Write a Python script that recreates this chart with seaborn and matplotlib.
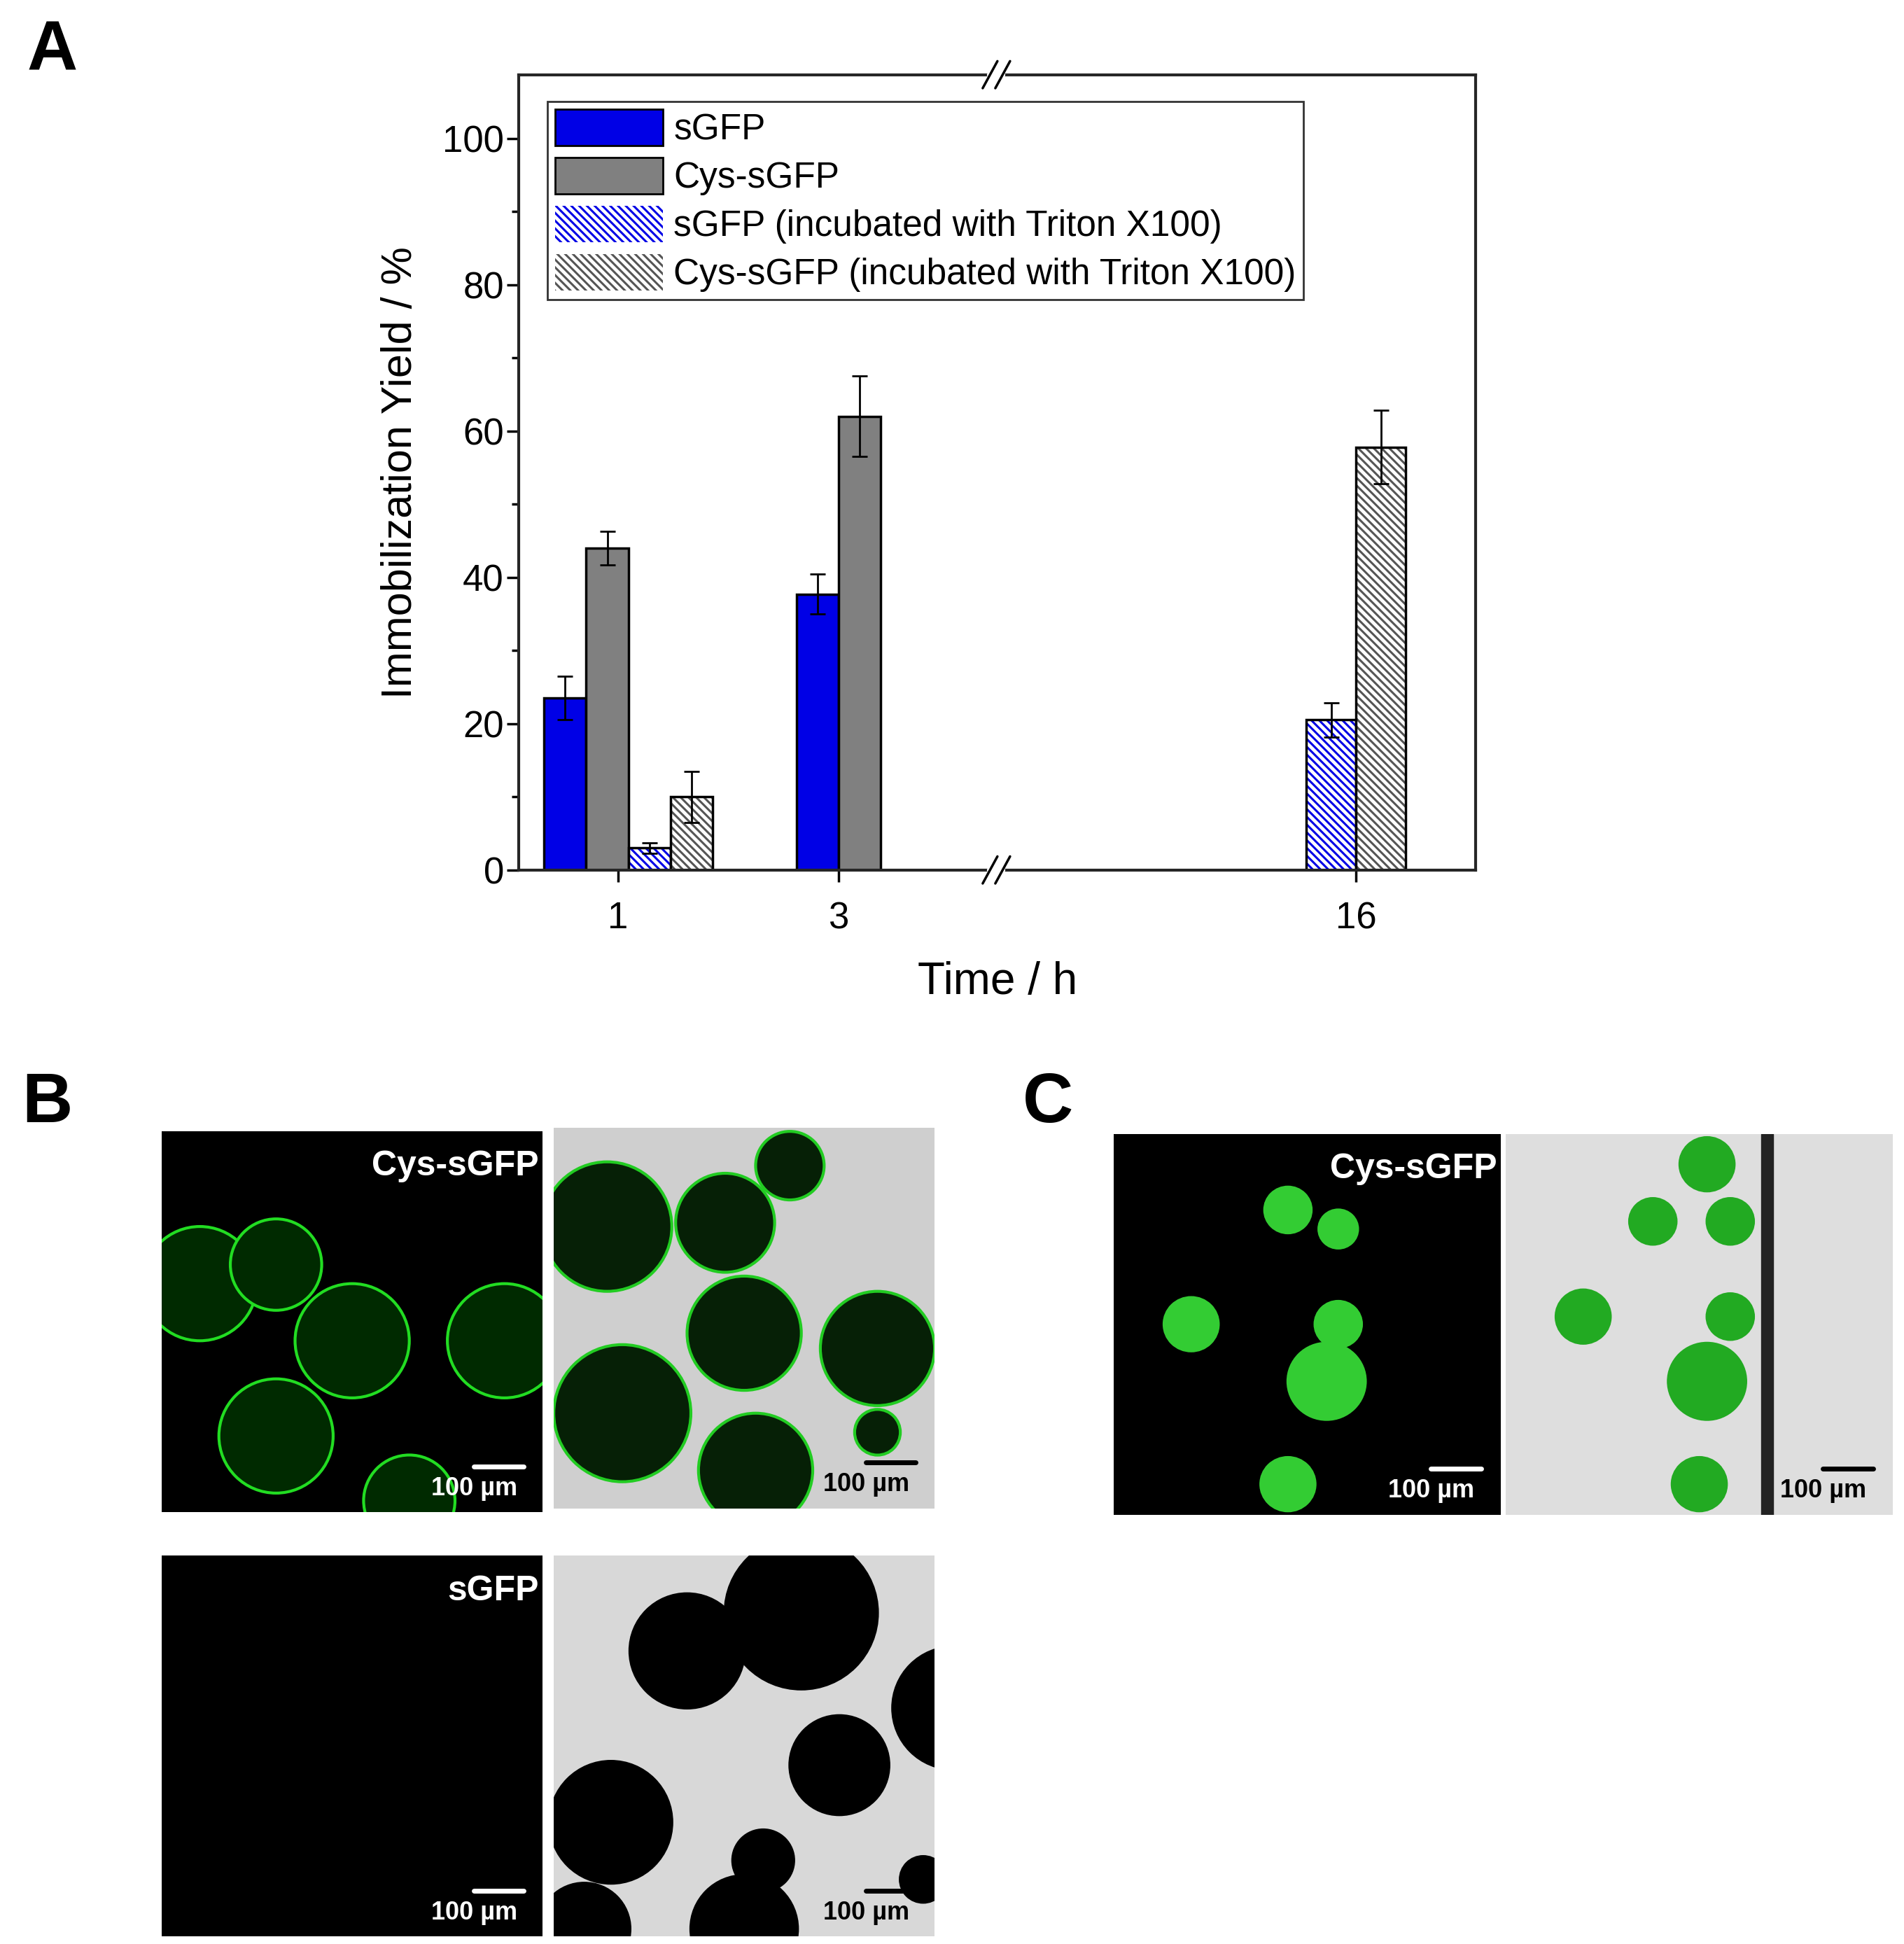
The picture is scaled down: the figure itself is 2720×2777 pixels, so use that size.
import matplotlib
matplotlib.use("Agg")
import matplotlib.pyplot as plt
import seaborn as sns
import numpy as np
from matplotlib.patches import Circle, Patch

sns.set_style("ticks")
plt.rcParams['font.family'] = ['Liberation Sans', 'DejaVu Sans']
plt.rcParams['text.color'] = 'black'
plt.rcParams['axes.labelcolor'] = 'black'
plt.rcParams['xtick.color'] = 'black'
plt.rcParams['ytick.color'] = 'black'
plt.rcParams['hatch.linewidth'] = 2.2

# ---- data ----
time_labels = ["1", "3", "16"]
group_pos = [0.0, 1.0, 3.46]
series = ["sGFP", "Cys-sGFP", "sGFP (incubated with Triton X100)", "Cys-sGFP (incubated with Triton X100)"]
vals_1h = [23.5, 44.0, 3.0, 10.0]
err_1h = [3.0, 2.3, 0.7, 3.5]
vals_3h = [37.7, 62.0]
err_3h = [2.7, 5.5]
vals_16h = [20.5, 57.8]
err_16h = [2.3, 5.0]

BLUE = "#0000e6"
GRAY = "#808080"

W, H = 1530, 1562
def rect(x0, y0, x1, y1):
    return [x0 / W, 1 - y1 / H, (x1 - x0) / W, (y1 - y0) / H]

fig = plt.figure(figsize=(27.2, 27.77), dpi=100)
ax = fig.add_axes(rect(417, 60, 1186, 699))

bw = 0.2
HATCH = "\\\\\\"
styles = [dict(fc=BLUE, hatch=None, hc=None), dict(fc=GRAY, hatch=None, hc=None),
          dict(fc="white", hatch=HATCH, hc=BLUE), dict(fc="white", hatch=HATCH, hc="#555555")]

def draw(x, v, e, st, w=bw):
    if st["hatch"]:
        ax.bar(x, v, w, color="white", edgecolor=st["hc"], hatch=st["hatch"], linewidth=0)
        ax.bar(x, v, w, fill=False, edgecolor="black", linewidth=2.5)
    else:
        ax.bar(x, v, w, color=st["fc"], edgecolor="black", linewidth=2.5)
    ax.errorbar(x, v, yerr=e, fmt="none", ecolor="black", elinewidth=2, capsize=8, capthick=2)

offs4 = [-1.5, -0.5, 0.5, 1.5]
for i in range(4):
    draw(group_pos[0] + offs4[i] * bw, vals_1h[i], err_1h[i], styles[i])
for i in range(2):
    draw(group_pos[1] + (i - 0.5) * bw, vals_3h[i], err_3h[i], styles[i])
w16 = 0.237
for i in range(2):
    draw(group_pos[2] + (i - 0.5) * w16, vals_16h[i], err_16h[i], styles[i + 2], w=w16)

ax.set_xlim(-0.52, 4.03)
ax.set_ylim(0, 108.7)
ax.set_xticks([group_pos[0] - 0.05, group_pos[1], group_pos[2]])
ax.set_xticklabels(time_labels)
ax.set_yticks([0, 20, 40, 60, 80, 100])
ax.set_yticks(np.arange(10, 110, 20), minor=True)
ax.tick_params(axis="both", labelsize=38, width=2.5, length=12, direction="out")
ax.tick_params(axis="y", which="minor", width=2.5, length=7)
ax.tick_params(axis="x", pad=20)
for s in ax.spines.values():
    s.set_visible(True)
    s.set_linewidth(3)
ax.set_ylabel("Immobilization Yield / %", fontsize=44, labelpad=22)
ax.set_xlabel("Time / h", fontsize=46, labelpad=26)

# axis break marks
bx = 1.75
for yv in (0, 1):
    ax.plot([bx - 0.03, bx + 0.03], [yv, yv], transform=ax.get_xaxis_transform(), color="white", lw=6,
            clip_on=False, zorder=5)
    for dx in (-0.03, 0.03):
        ax.plot([bx + dx - 0.035, bx + dx + 0.035], [yv - 0.017, yv + 0.017], transform=ax.get_xaxis_transform(),
                color="black", lw=2.5, clip_on=False, zorder=6)

handles = [Patch(fc=BLUE, ec="black", lw=2), Patch(fc=GRAY, ec="black", lw=2),
           Patch(fc="white", ec=BLUE, hatch=HATCH, lw=0), Patch(fc="white", ec="#555555", hatch=HATCH, lw=0)]
leg = ax.legend(handles, series, loc="upper left", bbox_to_anchor=(0.03, 0.966), fontsize=37,
                frameon=True, fancybox=False, edgecolor="black", handlelength=3.0, handleheight=1.2,
                borderpad=0.2, labelspacing=0.28, handletextpad=0.3, borderaxespad=0)
leg.get_frame().set_linewidth(2)

# ---- microscopy panels (schematic) ----
def panel(r, bg, label=None, circles=(), circ_fc="black", circ_ec=None, scale_col="white"):
    a = fig.add_axes(rect(*r))
    a.set_facecolor(bg)
    a.set_xlim(0, 1); a.set_ylim(0, 1)
    a.set_xticks([]); a.set_yticks([])
    for s in a.spines.values():
        s.set_visible(False)
    for (cx, cy, rr) in circles:
        a.add_patch(Circle((cx, cy), rr, fc=circ_fc, ec=circ_ec if circ_ec else circ_fc, lw=3))
    if label:
        a.text(0.99, 0.95, label, color="white", fontsize=36, fontweight="bold", ha="right", va="top")
    a.plot([0.82, 0.95], [0.12, 0.12], color=scale_col, lw=5)
    a.text(0.82, 0.03, "100 µm", color=scale_col, fontsize=26, fontweight="bold", ha="center", va="bottom")
    return a

cB1 = [(0.5, 0.45, 0.15), (0.9, 0.45, 0.15), (0.3, 0.2, 0.15), (0.1, 0.6, 0.15), (0.3, 0.65, 0.12), (0.65, 0.03, 0.12)]
panel((130, 909, 436, 1215), "black", "Cys-sGFP", cB1, circ_fc="#002a00", circ_ec="#22dd22")
cB2 = [(0.62, 0.9, 0.09), (0.14, 0.74, 0.17), (0.45, 0.75, 0.13), (0.5, 0.46, 0.15), (0.85, 0.42, 0.15),
       (0.18, 0.25, 0.18), (0.53, 0.1, 0.15), (0.85, 0.2, 0.06)]
panel((445, 906, 751, 1212), "#cfcfcf", None, cB2, circ_fc="#062006", circ_ec="#22cc22", scale_col="black")
panel((130, 1250, 436, 1556), "black", "sGFP")
cB4 = [(0.35, 0.75, 0.15), (0.65, 0.85, 0.2), (0.75, 0.45, 0.13), (0.15, 0.3, 0.16), (0.55, 0.2, 0.08),
       (0.5, 0.02, 0.14), (1.05, 0.6, 0.16), (0.97, 0.15, 0.06), (0.08, 0.02, 0.12)]
panel((445, 1250, 751, 1556), "#d8d8d8", None, cB4, circ_fc="black", scale_col="black")
cC1 = [(0.2, 0.5, 0.07), (0.55, 0.35, 0.1), (0.45, 0.8, 0.06), (0.58, 0.5, 0.06), (0.58, 0.75, 0.05), (0.45, 0.08, 0.07)]
panel((895, 911, 1206, 1217), "black", "Cys-sGFP", cC1, circ_fc="#33cc33")
cC2 = [(0.52, 0.92, 0.07), (0.38, 0.77, 0.06), (0.58, 0.77, 0.06), (0.2, 0.52, 0.07), (0.58, 0.52, 0.06),
       (0.52, 0.35, 0.1), (0.5, 0.08, 0.07)]
a = panel((1210, 911, 1521, 1217), "#dedede", None, cC2, circ_fc="#22aa22", scale_col="black")
a.axvspan(0.66, 0.69, color="#222222")

for t, x, y in [("A", 42, 42), ("B", 38, 887), ("C", 842, 887)]:
    fig.text(x / W, 1 - y / H, t, fontsize=72, fontweight="bold", ha="center", va="center")

fig.savefig("out.png", dpi=100)
